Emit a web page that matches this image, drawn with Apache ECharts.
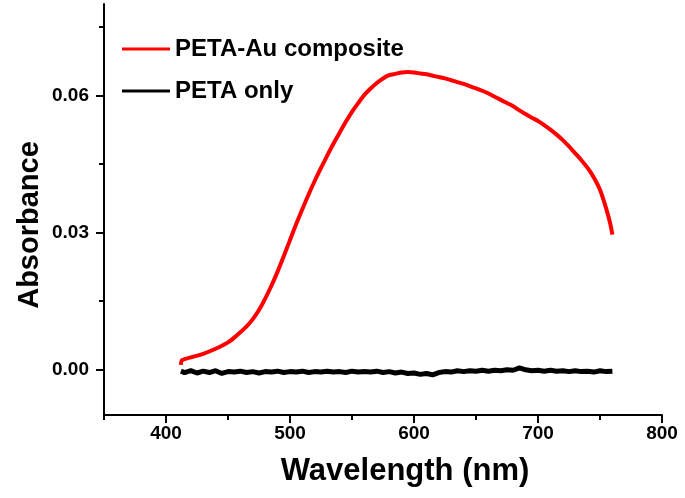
<!DOCTYPE html>
<html>
<head>
<meta charset="utf-8">
<script src="https://cdn.jsdelivr.net/npm/echarts@6/dist/echarts.min.js"></script>
<style>html,body{margin:0;padding:0;background:#fff}#c{width:685px;height:498px}</style>
</head>
<body>
<div id="c"></div>
<script>
const seriesNames = ['PETA-Au composite', 'PETA only'];
const xTickLabels = [400, 500, 600, 700, 800];
const xMinorTicks = [350, 450, 550, 650, 750];
const yTickLabels = [0, 0.03, 0.06];
const yMinorTicks = [0.015, 0.045, 0.075];

const auWavelength = [412,413,420,430,440,450,457,465,470,475,480,485,490,495,500,505,510,515,520,525,530,535,540,545,550,555,560,565,570,575,580,585,590,595,600,605,610,615,620,625,630,635,640,645,650,655,660,665,670,675,680,685,690,695,700,705,710,715,720,725,730,735,740,745,750,755,758,760];
const auAbsorbance = [0.0010,0.0020,0.0026,0.0034,0.0045,0.0059,0.0074,0.0094,0.0110,0.0130,0.0155,0.0183,0.0214,0.0248,0.0283,0.0318,0.0351,0.0383,0.0413,0.0441,0.0468,0.0494,0.0518,0.0542,0.0564,0.0583,0.0601,0.0615,0.0627,0.0637,0.0644,0.0647,0.0650,0.0651,0.0650,0.0648,0.0646,0.0643,0.0640,0.0637,0.0633,0.0629,0.0625,0.0620,0.0615,0.0610,0.0604,0.0597,0.0590,0.0583,0.0576,0.0567,0.0559,0.0551,0.0544,0.0535,0.0525,0.0514,0.0502,0.0488,0.0473,0.0458,0.0441,0.0420,0.0393,0.0352,0.0322,0.0295];

const petaWavelength = [412,415,420,425,430,435,440,445,450,455,460,465,470,475,480,485,490,495,500,505,510,515,520,525,530,535,540,545,550,555,560,565,570,575,580,585,590,595,600,605,610,615,620,625,630,635,640,645,650,655,660,665,670,675,680,685,690,695,700,705,710,715,720,725,730,735,740,745,750,755,760];
const petaAbsorbance = [-0.0004,-0.0007,-0.0003,-0.0008,-0.0004,-0.0007,-0.0003,-0.0009,-0.0005,-0.0006,-0.0004,-0.0007,-0.0005,-0.0008,-0.0005,-0.0006,-0.0004,-0.0007,-0.0005,-0.0006,-0.0004,-0.0007,-0.0005,-0.0006,-0.0004,-0.0006,-0.0005,-0.0007,-0.0004,-0.0006,-0.0005,-0.0006,-0.0004,-0.0007,-0.0005,-0.0008,-0.0006,-0.0009,-0.0008,-0.0011,-0.0009,-0.0012,-0.0007,-0.0005,-0.0006,-0.0003,-0.0005,-0.0003,-0.0004,-0.0002,-0.0004,-0.0002,-0.0003,-0.0001,-0.0002,0.0003,-0.0001,-0.0003,-0.0002,-0.0004,-0.0002,-0.0004,-0.0003,-0.0005,-0.0003,-0.0005,-0.0004,-0.0006,-0.0003,-0.0005,-0.0004];

const FONT = '"Liberation Sans", Arial, sans-serif';
const pair = (xs, ys) => xs.map((x, i) => [x, ys[i]]);

const chart = echarts.init(document.getElementById('c'), null, {renderer: 'canvas'});
const axisLineStyle = {color: '#000', width: 2};
chart.setOption({
  animation: false,
  backgroundColor: '#fff',
  grid: {left: 104, right: 23, top: 4, bottom: 83, containLabel: false},
  legend: {
    orient: 'vertical', left: 117, top: 31, itemWidth: 48, itemHeight: 3, itemGap: 16,
    icon: 'rect',
    textStyle: {fontFamily: FONT, fontWeight: 'bold', fontSize: 24, color: '#000', lineHeight: 26},
    data: seriesNames
  },
  xAxis: [{
    type: 'value', min: 350, max: 800,
    axisLine: {onZero: false, lineStyle: axisLineStyle},
    axisTick: {show: true, inside: false, length: 8, lineStyle: {color: '#000', width: 2}, customValues: xTickLabels},
    axisLabel: {customValues: xTickLabels, margin: 9, fontFamily: FONT, fontWeight: 'bold', fontSize: 19, color: '#000'},
    splitLine: {show: false}
  }, {
    type: 'value', min: 350, max: 800, position: 'bottom',
    axisLine: {show: false, onZero: false},
    axisTick: {show: true, inside: false, length: 5, lineStyle: {color: '#000', width: 2}, customValues: xMinorTicks},
    axisLabel: {show: false},
    splitLine: {show: false}
  }],
  yAxis: [{
    type: 'value', min: -0.01, max: 0.08,
    axisLine: {show: true, onZero: false, lineStyle: axisLineStyle},
    axisTick: {show: true, inside: false, length: 8, lineStyle: {color: '#000', width: 2}, customValues: yTickLabels},
    axisLabel: {customValues: yTickLabels, margin: 15, fontFamily: FONT, fontWeight: 'bold', fontSize: 19, color: '#000',
      formatter: v => v.toFixed(2)},
    splitLine: {show: false}
  }, {
    type: 'value', min: -0.01, max: 0.08, position: 'left',
    axisLine: {show: false, onZero: false},
    axisTick: {show: true, inside: false, length: 5, lineStyle: {color: '#000', width: 2}, customValues: yMinorTicks},
    axisLabel: {show: false},
    splitLine: {show: false}
  }],
  graphic: [
    {type: 'text', x: 405, y: 471, style: {text: 'Wavelength (nm)', textAlign: 'center', textVerticalAlign: 'middle', font: 'bold 31px ' + FONT, fill: '#000'}},
    {type: 'text', x: 30, y: 225, rotation: Math.PI / 2, style: {text: 'Absorbance', textAlign: 'center', textVerticalAlign: 'middle', font: 'bold 29px ' + FONT, fill: '#000'}}
  ],
  series: [
    {name: seriesNames[0], type: 'line', symbol: 'none', smooth: 0.3, data: pair(auWavelength, auAbsorbance),
      itemStyle: {color: '#ff0000'}, lineStyle: {color: '#ff0000', width: 4}},
    {name: seriesNames[1], type: 'line', symbol: 'none', data: pair(petaWavelength, petaAbsorbance),
      itemStyle: {color: '#000'}, lineStyle: {color: '#000', width: 5}}
  ]
});
</script>
</body>
</html>
